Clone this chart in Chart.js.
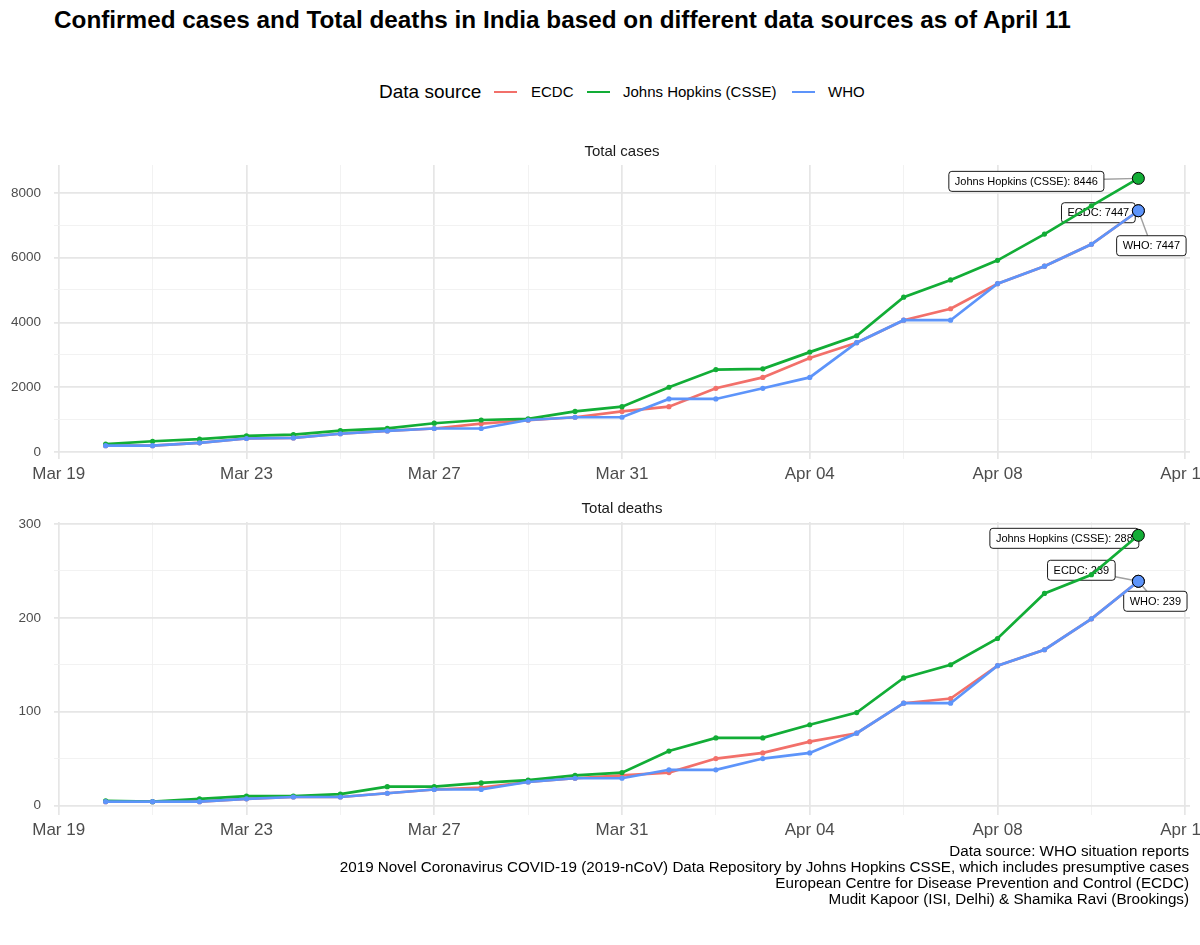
<!DOCTYPE html>
<html><head><meta charset="utf-8">
<script src="https://cdn.jsdelivr.net/npm/chart.js@4.4.1/dist/chart.umd.min.js"></script>
<style>
html,body{margin:0;padding:0;background:#fff;overflow:hidden;width:1200px;height:945px;}
body{position:relative;font-family:"Liberation Sans",Arial,sans-serif;color:#000;}
.abs{position:absolute;white-space:nowrap;}
#title{left:54px;top:6px;font-weight:bold;font-size:24.3px;line-height:28px;}
#legTitle{left:379px;top:81px;font-size:19px;line-height:22px;}
.sw{height:2px;width:23px;}
.lt{font-size:15px;line-height:18px;top:83px;}
#caption{right:11px;bottom:38px;font-size:15.2px;line-height:16px;text-align:right;color:#000;}
#wrapTop{left:0;top:140px;width:1260px;height:350px;}
#wrapBot{left:0;top:495px;width:1260px;height:351px;}
</style></head>
<body>
<div id="title" class="abs">Confirmed cases and Total deaths in India based on different data sources as of April 11</div>
<div id="legTitle" class="abs">Data source</div>
<div class="abs sw" style="left:494px;top:91px;background:#F2706A"></div>
<div class="abs lt" style="left:531px">ECDC</div>
<div class="abs sw" style="left:587px;top:91px;background:#12AD36"></div>
<div class="abs lt" style="left:623px">Johns Hopkins (CSSE)</div>
<div class="abs sw" style="left:792px;top:91px;background:#5D94FA"></div>
<div class="abs lt" style="left:828px">WHO</div>
<div id="wrapTop" class="abs"><canvas id="cTop" width="1260" height="350"></canvas></div>
<div id="wrapBot" class="abs"><canvas id="cBot" width="1260" height="351"></canvas></div>
<div id="caption" class="abs">Data source: WHO situation reports<br>2019 Novel Coronavirus COVID-19 (2019-nCoV) Data Repository by Johns Hopkins CSSE, which includes presumptive cases<br>European Centre for Disease Prevention and Control (ECDC)<br>Mudit Kapoor (ISI, Delhi) &amp; Shamika Ravi (Brookings)</div>
<script>
// ---- data ----
const dates = ['2020-03-20','2020-03-21','2020-03-22','2020-03-23','2020-03-24','2020-03-25','2020-03-26','2020-03-27','2020-03-28','2020-03-29','2020-03-30','2020-03-31','2020-04-01','2020-04-02','2020-04-03','2020-04-04','2020-04-05','2020-04-06','2020-04-07','2020-04-08','2020-04-09','2020-04-10','2020-04-11'];
const seriesNames = ['ECDC','Johns Hopkins (CSSE)','WHO'];
const seriesColors = ['#F2706A','#12AD36','#5D94FA'];
const casesECDC = [195,195,283,415,434,562,649,724,873,979,1071,1251,1397,1965,2301,2902,3374,4067,4421,5194,5734,6412,7447];
const casesJHU  = [244,330,396,499,536,657,727,887,987,1024,1251,1397,1998,2543,2567,3082,3588,4778,5311,5916,6725,7598,8446];
const casesWHO  = [195,195,283,415,434,562,649,724,724,987,1071,1071,1636,1636,1965,2301,3374,4067,4067,5194,5734,6412,7447];
const deathsECDC = [4,4,4,7,9,9,13,17,19,25,29,32,35,50,56,68,77,109,114,149,166,199,239];
const deathsJHU  = [5,4,7,10,10,12,20,20,24,27,32,35,58,72,72,86,99,136,150,178,226,246,288];
const deathsWHO  = [4,4,4,7,9,9,13,17,17,25,29,29,38,38,50,56,77,109,109,149,166,199,239];
const originDate = '2020-03-19';
const xTickLabels = ['Mar 19','Mar 23','Mar 27','Mar 31','Apr 04','Apr 08','Apr 12'];
const casesTicks = [0,2000,4000,6000,8000];
const deathsTicks = [0,100,200,300];

// ---- helpers ----
const dayOf = d => Math.round((Date.parse(d) - Date.parse(originDate)) / 86400000);
const xs = dates.map(dayOf);
const xMajor = xTickLabels.map((_, i) => i * 4);
const FONT = '"Liberation Sans", Arial, sans-serif';

function withMinor(major) {
  const out = [];
  major.forEach((v, i) => {
    out.push({ value: v, isMinor: false });
    if (i < major.length - 1) out.push({ value: (v + major[i + 1]) / 2, isMinor: true });
  });
  return out;
}

const annotPlugin = {
  id: 'annot',
  beforeDatasetsDraw(chart, args, opts) {
    const ctx = chart.ctx, ca = chart.chartArea;
    ctx.save();
    ctx.font = '15px ' + FONT;
    ctx.fillStyle = '#1a1a1a';
    ctx.textAlign = 'center';
    ctx.textBaseline = 'middle';
    ctx.fillText(opts.strip, (ca.left + ca.right) / 2, ca.top - 13);
    ctx.font = '11px ' + FONT;
    opts.labels.forEach(l => {
      const ds = chart.data.datasets[l.ds];
      const last = ds.data[ds.data.length - 1];
      const px = chart.scales.x.getPixelForValue(last.x);
      const py = chart.scales.y.getPixelForValue(last.y);
      const text = ds.label + ': ' + last.y;
      const w = ctx.measureText(text).width + 12, h = 20;
      const cx = px + l.dx, cy = py + l.dy;
      const x0 = cx - w / 2, y0 = cy - h / 2;
      // segment from point toward label centre, clipped at the box edge
      const vx = px - cx, vy = py - cy;
      const t = Math.min(vx ? (w / 2) / Math.abs(vx) : Infinity, vy ? (h / 2) / Math.abs(vy) : Infinity);
      if (t < 1) {
        ctx.strokeStyle = '#a0a0a0';
        ctx.lineWidth = 1.4;
        ctx.beginPath(); ctx.moveTo(px, py); ctx.lineTo(cx + vx * t, cy + vy * t); ctx.stroke();
      }
      ctx.beginPath();
      ctx.roundRect(x0, y0, w, h, 3);
      ctx.fillStyle = '#fff'; ctx.fill();
      ctx.strokeStyle = '#000'; ctx.lineWidth = 0.9; ctx.stroke();
      ctx.fillStyle = '#000';
      ctx.fillText(text, cx, cy + 0.5);
    });
    ctx.restore();
  }
};

function makeChart(id, series, majorTicks, padTop, strip, labels) {
  const all = series.flat();
  const lo = Math.min(...all), hi = Math.max(...all), r = hi - lo;
  const xr = xs[xs.length - 1] - xs[0];
  const gridColor = c => c.tick && c.tick.isMinor ? '#f0f0f0' : '#e6e6e6';
  const gridWidth = c => c.tick && c.tick.isMinor ? 0.9 : 1.7;
  const n = xs.length;
  return new Chart(document.getElementById(id), {
    type: 'line',
    data: {
      datasets: series.map((vals, si) => ({
        label: seriesNames[si],
        data: vals.map((v, i) => ({ x: xs[i], y: v })),
        borderColor: seriesColors[si],
        backgroundColor: seriesColors[si],
        borderWidth: 2.7,
        pointRadius: c => c.dataIndex === n - 1 ? 6 : 2.6,
        pointBorderColor: c => c.dataIndex === n - 1 ? '#000' : seriesColors[si],
        pointBorderWidth: c => c.dataIndex === n - 1 ? 1 : 0,
        tension: 0,
        order: 2 - si
      }))
    },
    options: {
      responsive: false,
      animation: false,
      devicePixelRatio: 1,
      layout: { padding: { top: padTop, right: 70, left: 0, bottom: 0 } },
      plugins: { legend: { display: false }, tooltip: { enabled: false }, annot: { strip, labels } },
      scales: {
        x: {
          type: 'linear',
          min: xs[0] - 0.05 * xr,
          max: xs[xs.length - 1] + 0.05 * xr,
          afterBuildTicks: s => { s.ticks = withMinor(xMajor); },
          afterFit: s => { s.height = 31; },
          border: { display: false },
          grid: { color: gridColor, lineWidth: gridWidth, drawTicks: false },
          ticks: {
            autoSkip: false, maxRotation: 0, padding: 5,
            font: { family: FONT, size: 17 }, color: '#4d4d4d',
            callback: (v, i, t) => t[i].isMinor ? '' : xTickLabels[xMajor.indexOf(v)]
          }
        },
        y: {
          min: lo - 0.05 * r,
          max: hi + 0.05 * r,
          afterBuildTicks: s => { s.ticks = withMinor(majorTicks); },
          afterFit: s => { s.width = 54; },
          border: { display: false },
          grid: { color: gridColor, lineWidth: gridWidth, drawTicks: false },
          ticks: {
            padding: 13,
            font: { family: FONT, size: 13.5 }, color: '#4d4d4d',
            callback: (v, i, t) => t[i].isMinor ? '' : String(v)
          }
        }
      }
    },
    plugins: [annotPlugin]
  });
}

makeChart('cTop', [casesECDC, casesJHU, casesWHO], casesTicks, 25, 'Total cases', [
  { ds: 1, dx: -112, dy: 3 },
  { ds: 0, dx: -40, dy: 2 },
  { ds: 2, dx: 13, dy: 35 }
]);
makeChart('cBot', [deathsECDC, deathsJHU, deathsWHO], deathsTicks, 27, 'Total deaths', [
  { ds: 1, dx: -74, dy: 3 },
  { ds: 0, dx: -57, dy: -11 },
  { ds: 2, dx: 17, dy: 20 }
]);
</script>
</body></html>
